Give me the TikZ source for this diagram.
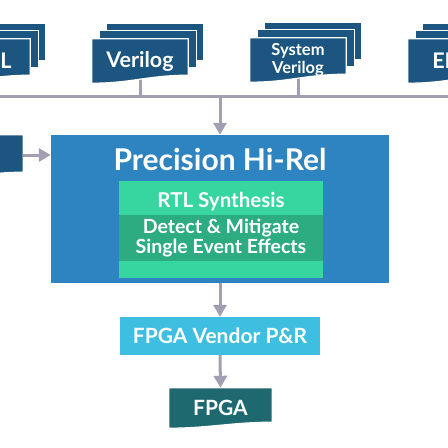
\documentclass[tikz,border=0pt]{standalone}
\usepackage{fontspec}
\setmainfont{Lato}
\usetikzlibrary{arrows.meta, positioning, calc, backgrounds}
\definecolor{docblue}{RGB}{28,86,128}
\definecolor{precblue}{RGB}{46,132,192}
\definecolor{rtlgreen}{RGB}{55,214,160}
\definecolor{seegreen}{RGB}{45,172,130}
\definecolor{vendorcyan}{RGB}{62,190,224}
\definecolor{fpgateal}{RGB}{30,104,112}
\definecolor{flowgray}{RGB}{163,158,178}
\tikzset{
    doc/.style={rectangle, minimum width=96pt, minimum height=44pt, inner sep=0pt,
        text=white, align=center, font=\bfseries\fontsize{21.5}{24}\selectfont},
    smalldoc/.style={doc, font=\bfseries\fontsize{16.5}{18}\selectfont},
    block/.style={rectangle, inner sep=0pt, text=white, align=center},
    conn/.style={draw=flowgray, line width=3pt},
    arrow/.style={conn, -{Triangle[width=13pt,length=12pt]}}
}
% document shape: flat top, wavy bottom
\newcommand{\docfill}[3]{%
    \filldraw[fill=#1, draw=white, line width=1.2pt]
        (#2.north west) -- (#2.north east) -- ($(#2.south east)+(0,-#3)$)
        .. controls ($(#2.south east)+(-40,-#3)$) and ($(#2.south west)+(40,0)$) .. (#2.south west) -- cycle;
}
% three sheets
\newcommand{\docstack}[1]{%
    \filldraw[fill=docblue, draw=white, line width=1.2pt]
        ($(#1.north west)+(15,-15)$) rectangle ($(#1.north east)+(15,22)$);
    \filldraw[fill=docblue, draw=white, line width=1.2pt]
        ($(#1.north west)+(8,-8)$) rectangle ($(#1.north east)+(8,29)$);
    \docfill{docblue}{#1}{8}
}

\begin{document}
\begin{tikzpicture}[x=1pt, y=-1pt]
    \useasboundingbox (0,0) rectangle (448,448);

    % Sources
    \node [doc] (vhdl) at (-18,61) {VHDL};
    \node [doc] (verilog) at (140,61) {Verilog};
    \node [smalldoc] (sysver) at (298,60) {System\\Verilog};
    \node [doc] (edif) at (456,61) {EDIF};
    \node [doc, minimum height=45pt] (hdlin) at (-25,157.5) {};
    \coordinate (busL) at (0,96);
    \coordinate (busR) at (448,96);

    % Precision Hi-Rel
    \node [block, fill=precblue, minimum width=338pt, minimum height=148pt] (prec) at (220,209) {};
    \node [block, anchor=base, font=\bfseries\fontsize{30}{34}\selectfont] (title) at (220,170) {Precision Hi-Rel};
    \node [block, fill=rtlgreen, minimum width=204pt, minimum height=97pt] (rtl) at (221,229.5) {};
    \node [block, anchor=base, font=\bfseries\fontsize{20.5}{24}\selectfont] (rtltext) at (221,207) {RTL Synthesis};
    \node [block, fill=seegreen, minimum width=204pt, minimum height=46pt,
        font=\bfseries\fontsize{19.5}{19.5}\selectfont] (see) at (221,238) {Detect \& Mitigate\\Single Event Effects};

    % Back end
    \node [block, fill=vendorcyan, minimum width=200pt, minimum height=38pt,
        font=\bfseries\fontsize{21}{24}\selectfont] (vendor) at (220,336) {FPGA Vendor P\&R};
    \node [doc, minimum width=103pt, minimum height=40pt, font=\bfseries\fontsize{21}{24}\selectfont] (fpga) at (220.5,408) {FPGA};

    % Shapes and bus
    \begin{scope}[on background layer]
        \draw [conn] (busL) -- (busR);
        \draw [conn] (verilog.center) -- (verilog.center |- busL);
        \draw [conn] (sysver.center) -- (sysver.center |- busL);
        \docstack{vhdl}
        \docstack{verilog}
        \docstack{sysver}
        \docstack{edif}
        \docfill{docblue}{hdlin}{8}
        \docfill{fpgateal}{fpga}{6}
    \end{scope}

    % Flows
    \draw [arrow] (busL -| prec.north) -- (prec.north);
    \draw [arrow] ($(hdlin.east)+(0,-2.5)$) -- ($(hdlin.east -| prec.west)+(0,-2.5)$);
    \draw [arrow] (prec.south) -- (vendor.north);
    \draw [arrow] (vendor.south) -- (fpga.north);
\end{tikzpicture}
\end{document}
